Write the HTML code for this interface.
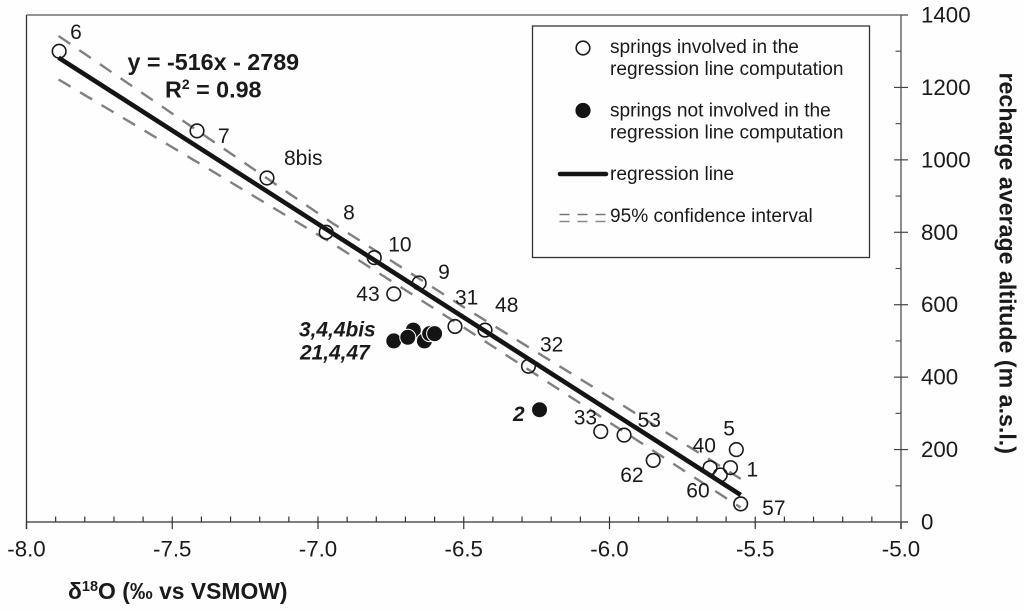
<!DOCTYPE html>
<html lang="en">
<head>
<meta charset="utf-8">
<title>Recharge altitude vs oxygen isotope ratio</title>
<style>
  html, body { margin: 0; padding: 0; background: #fefefe; }
  svg { display: block; font-family: "Liberation Sans", sans-serif; fill: #1a1a1a; }
</style>
</head>
<body>
<svg id="chart" xmlns="http://www.w3.org/2000/svg" width="1024" height="611" viewBox="0 0 1024 611">
  <rect x="0" y="0" width="1024" height="611" fill="#fefefe"/>
  <g id="ci-layer"></g>
  <g id="line-layer"></g>
  <g id="axes-layer"></g>
  <g id="marks-layer"></g>
  <g id="labels-layer"></g>

  <g font-weight="700" font-size="23.3">
    <text x="127.5" y="70">y = -516x - 2789</text>
    <text x="165" y="97.5">R<tspan font-size="14" dy="-8.5">2</tspan><tspan dy="8.5"> = 0.98</tspan></text>
  </g>

  <g font-weight="700" font-style="italic" font-size="20.9">
    <text x="299" y="336.5">3,4,4bis</text>
    <text x="300" y="359.5">21,4,47</text>
    <text x="513" y="421">2</text>
  </g>

  <g>
    <rect x="532.5" y="26" width="337" height="231.5" fill="#fefefe" stroke="#333" stroke-width="1.3"/>
    <circle cx="583" cy="48" r="6.8" fill="#fefefe" stroke="#1a1a1a" stroke-width="1.6"/>
    <circle cx="583" cy="110.5" r="7.6" fill="#141414"/>
    <line x1="560" y1="174" x2="606" y2="174" stroke="#141414" stroke-width="4.5" stroke-linecap="round"/>
    <line x1="559.5" y1="214.5" x2="607" y2="214.5" stroke="#777" stroke-width="1.6" stroke-dasharray="10 8"/>
    <line x1="559.5" y1="221.5" x2="607" y2="221.5" stroke="#888" stroke-width="1.6" stroke-dasharray="10 8"/>
    <g font-size="19.1">
      <text x="610" y="53">springs involved in the</text>
      <text x="610" y="75">regression line computation</text>
      <text x="610" y="116.5">springs not involved in the</text>
      <text x="610" y="138.5">regression line computation</text>
      <text x="610" y="180">regression line</text>
      <text x="610" y="222">95% confidence interval</text>
    </g>
  </g>

  <text x="68" y="599" font-weight="700" font-size="22.9">δ<tspan font-size="14.5" dy="-8">18</tspan><tspan dy="8">O (‰ vs VSMOW)</tspan></text>
  <text transform="translate(999.5 72.5) rotate(90)" font-weight="700" font-size="23.2">recharge average altitude (m a.s.l.)</text>
</svg>

<script>
// ---- data ----
const xTickLabels = ["-8.0", "-7.5", "-7.0", "-6.5", "-6.0", "-5.5", "-5.0"];
const xTickValues = [-8, -7.5, -7, -6.5, -6, -5.5, -5];
const yTickLabels = ["0", "200", "400", "600", "800", "1000", "1200", "1400"];
const yTickValues = [0, 200, 400, 600, 800, 1000, 1200, 1400];
const xMinorTicks = [-7.9, -7.8, -7.7, -7.6, -7.4, -7.3, -7.2, -7.1, -6.9, -6.8, -6.7, -6.6, -6.4, -6.3, -6.2, -6.1, -5.9, -5.8, -5.7, -5.6, -5.4, -5.3, -5.2, -5.1];
const yMinorTicks = [100, 300, 500, 700, 900, 1100, 1300];

const openIds = ["6", "7", "8bis", "8", "10", "9", "43", "31", "48", "32", "33", "53", "62", "40", "60", "1", "5", "57"];
const openDelta = [-7.888, -7.415, -7.175, -6.972, -6.807, -6.653, -6.74, -6.53, -6.427, -6.278, -6.03, -5.95, -5.85, -5.655, -5.62, -5.585, -5.565, -5.55];
const openAltitude = [1300, 1080, 950, 800, 730, 660, 630, 540, 530, 430, 250, 240, 170, 150, 130, 150, 200, 50];

const filledDelta = [-6.673, -6.74, -6.692, -6.635, -6.617, -6.6, -6.24];
const filledAltitude = [530, 500, 510, 500, 520, 520, 310];

const regressionSlope = -516;
const regressionIntercept = -2789;
const regressionDomain = [-7.89, -5.55];

const ciDelta = [-7.89, -7.4, -6.95, -6.5, -6.0, -5.55];
const ciUpper = [1342, 1073, 825, 593, 345, 119];
const ciLower = [1222, 987, 769, 537, 275, 40];

// ---- layout ----
const labelOffsetX = {"6":11,"7":21,"8bis":17,"8":17,"10":14,"9":19,"43":-37.5,"31":0,"48":10,"32":11.5,"33":-27,"53":13.5,"62":-33,"40":-17.5,"60":-34,"1":16,"5":-13,"57":21.5};
const labelOffsetY = {"6":-12,"7":12,"8bis":-13,"8":-13,"10":-6,"9":-4,"43":7,"31":-22,"48":-18,"32":-15,"33":-7,"53":-8,"62":21.5,"40":-15,"60":22.7,"1":8.7,"5":-14,"57":11};

const plotLeft = 26.5, plotRight = 901, plotTop = 15, plotBottom = 522;
const xMin = -8, xMax = -5, yMin = 0, yMax = 1400;
function xScale(v) { return plotLeft + (v - xMin) / (xMax - xMin) * (plotRight - plotLeft); }
function yScale(v) { return plotBottom - (v - yMin) / (yMax - yMin) * (plotBottom - plotTop); }

const NS = "http://www.w3.org/2000/svg";
function make(tag, parent, attrs) {
  const el = document.createElementNS(NS, tag);
  for (const k in attrs) el.setAttribute(k, attrs[k]);
  parent.appendChild(el);
  return el;
}
const axes = document.getElementById("axes-layer");
const ciLayer = document.getElementById("ci-layer");
const lineLayer = document.getElementById("line-layer");
const marks = document.getElementById("marks-layer");
const labels = document.getElementById("labels-layer");

// axis frame
const leftAxis = make("line", axes, {x1: plotLeft, y1: plotTop, x2: plotLeft, y2: plotBottom + 7, stroke: "#333", "stroke-width": 1.3});


const topAxis = make("line", axes, {x1: plotLeft, y1: plotTop, x2: plotRight, y2: plotTop, stroke: "#555", "stroke-width": 1.3});


const bottomAxis = make("line", axes, {x1: plotLeft, y1: plotBottom, x2: plotRight + 7, y2: plotBottom, stroke: "#333", "stroke-width": 1.3});


const rightAxis = make("line", axes, {x1: plotRight, y1: plotTop, x2: plotRight, y2: plotBottom + 7, stroke: "#666", "stroke-width": 1.5});



// x ticks
xTickValues.forEach(function (v, i) {
  const px = xScale(v);
  const inner = (i === 0 || i === xTickValues.length - 1) ? 0 : 5.5;
  const tick = make("line", axes, {x1: px, y1: plotBottom - inner, x2: px, y2: plotBottom + 7, stroke: "#333", "stroke-width": 1.2});
  
  
  const label = make("text", axes, {x: px, y: 556.5, "text-anchor": "middle", "font-size": 22.3});
  label.textContent = xTickLabels[i];
  
  
});
xMinorTicks.forEach(function (v) {
  const px = xScale(v);
  const tick = make("line", axes, {x1: px, y1: plotBottom - 5.5, x2: px, y2: plotBottom, stroke: "#333", "stroke-width": 1.2});
  
  
});

// y ticks
yTickValues.forEach(function (v, i) {
  const py = yScale(v);
  const inner = (v === yMin || v === yMax) ? 0 : 7;
  const tick = make("line", axes, {x1: plotRight - inner, y1: py, x2: plotRight + 7, y2: py, stroke: "#444", "stroke-width": 1.2});
  
  
  const label = make("text", axes, {x: 921, y: py + 7.5, "font-size": 22.3});
  label.textContent = yTickLabels[i];
  
  
});
yMinorTicks.forEach(function (v) {
  const py = yScale(v);
  const tick = make("line", axes, {x1: plotRight - 5.5, y1: py, x2: plotRight, y2: py, stroke: "#555", "stroke-width": 1.2});
  
  
});

// confidence interval
function ciPath(series) {
  return ciDelta.map(function (d, i) { return xScale(d).toFixed(1) + "," + yScale(series[i]).toFixed(1); }).join(" ");
}
const ciUp = make("polyline", ciLayer, {points: ciPath(ciUpper), fill: "none", stroke: "#808080", "stroke-width": 2.4, "stroke-dasharray": "14 11"});


const ciLow = make("polyline", ciLayer, {points: ciPath(ciLower), fill: "none", stroke: "#808080", "stroke-width": 2.4, "stroke-dasharray": "14 11"});



// regression line
function regression(x) { return regressionSlope * x + regressionIntercept; }
const regLine = make("line", lineLayer, {
  x1: xScale(regressionDomain[0]), y1: yScale(regression(regressionDomain[0])),
  x2: xScale(regressionDomain[1]), y2: yScale(regression(regressionDomain[1])),
  stroke: "#141414", "stroke-width": 4.6
});



// open points
openDelta.forEach(function (d, i) {
  const c = make("circle", marks, {cx: xScale(d), cy: yScale(openAltitude[i]), r: 6.8, fill: "none", stroke: "#1a1a1a", "stroke-width": 1.6});
  
  
  const id = openIds[i];
  const t = make("text", labels, {x: xScale(d) + labelOffsetX[id], y: yScale(openAltitude[i]) + labelOffsetY[id], "font-size": 21});
  t.textContent = id;
  
  
});

// filled points
filledDelta.forEach(function (d, i) {
  const c = make("circle", marks, {cx: xScale(d), cy: yScale(filledAltitude[i]), r: 8, fill: "#141414", stroke: "#fefefe", "stroke-width": 1});
  
  
});
</script>
</body>
</html>
